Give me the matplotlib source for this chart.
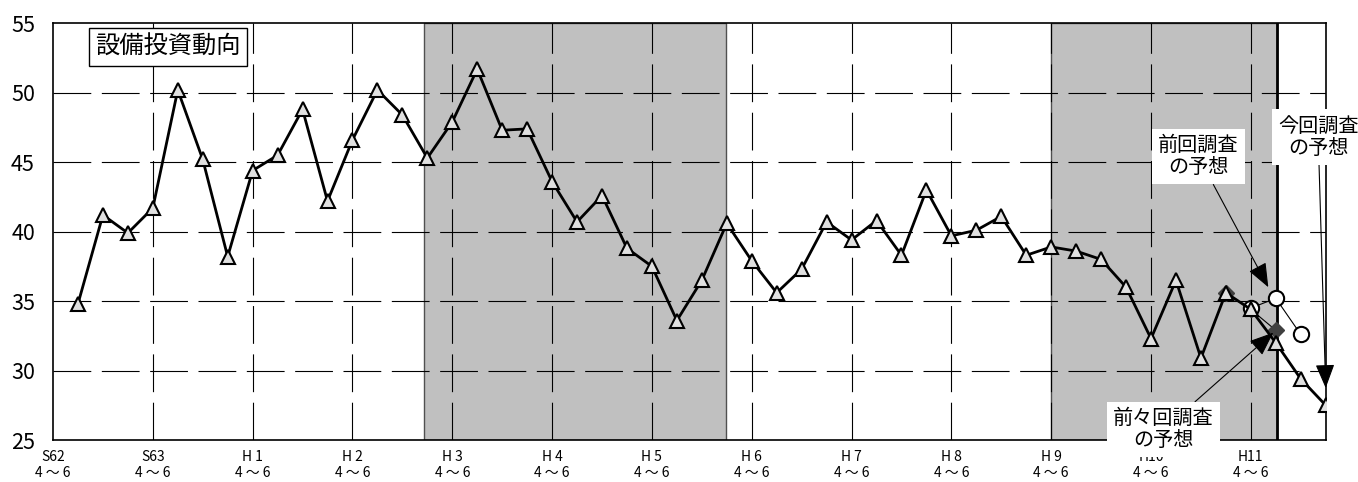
import matplotlib
matplotlib.use('Agg')
import matplotlib.pyplot as plt

plt.rcParams['font.family'] = ['Noto Sans CJK JP', 'DejaVu Sans']

# 四半期番号 (0 = S62 4~6)
quarters = list(range(1, 52))
setsubi = [34.8, 41.2, 39.9, 41.7, 50.2, 45.2, 38.2, 44.4, 45.5, 48.8,
           42.2, 46.6, 50.2, 48.4, 45.3, 47.9, 51.7, 47.3, 47.4, 43.6,
           40.7, 42.6, 38.8, 37.5, 33.6, 36.5, 40.6, 37.9, 35.6, 37.3,
           40.7, 39.4, 40.8, 38.3, 43.0, 39.7, 40.1, 41.1, 38.3, 38.9,
           38.6, 38.0, 36.0, 32.3, 36.5, 30.9, 35.6, 34.4, 32.0, 29.4, 27.5]

zenkai_x = [48, 49, 50]
zenkai_y = [34.5, 35.2, 32.6]
zenzenkai_x = [47, 48, 49]
zenzenkai_y = [35.6, 34.4, 32.9]

# 景気後退期 (網掛け)
koutai = [(14.87, 26.98), (40.0, 49.05)]
genzai = 49.05

tick_pos = list(range(0, 49, 4))
tick_labels = ['S62', 'S63', 'H 1', 'H 2', 'H 3', 'H 4', 'H 5', 'H 6',
               'H 7', 'H 8', 'H 9', 'H10', 'H11']
y_ticks = [25, 30, 35, 40, 45, 50, 55]

fig = plt.figure(figsize=(13.58, 4.82), dpi=100)
ax = fig.add_axes([53 / 1358, 1 - 440 / 482, (1325.7 - 53) / 1358, (440 - 23.3) / 482])

for a, b in koutai:
    ax.axvspan(a, b, facecolor='#c0c0c0', edgecolor='#505050', lw=1, zorder=0.5)

# グリッド
dash = (34, 9.5)
for y in y_ticks[1:-1]:
    ax.axhline(y, color='black', lw=0.8, dashes=dash, zorder=1)
for x in tick_pos[1:]:
    ax.axvline(x, color='black', lw=0.8, dashes=dash, zorder=1)
ax.axvline(genzai, color='black', lw=2, zorder=2)

ax.plot(zenzenkai_x, zenzenkai_y, color='black', lw=0.8, marker='D', ms=8,
        mfc='#404040', mec='#404040', zorder=3)
ax.plot(zenkai_x, zenkai_y, color='black', lw=0.8, marker='o', ms=11,
        mfc='white', mec='black', mew=1.5, zorder=4)
ax.plot(quarters, setsubi, color='black', lw=2, marker='^', ms=10.5,
        mfc='#e0e0e0', mec='black', mew=1.5, zorder=5)

ax.set_xlim(0, 51)
ax.set_ylim(25, 55)
ax.set_yticks(y_ticks)
ax.set_yticklabels([str(v) for v in y_ticks], fontsize=15.5)
ax.set_xticks(tick_pos)
ax.set_xticklabels([t + '\n4 ～ 6' for t in tick_labels], fontsize=10, linespacing=1.15)
ax.tick_params(axis='y', length=0, pad=13)
ax.tick_params(axis='x', length=0, pad=7.5)
for s in ax.spines.values():
    s.set_linewidth(1.2)

ax.text(1.7, 53.3, '設備投資動向', fontsize=17.5, ha='left', va='center', zorder=6,
        bbox=dict(boxstyle='square,pad=0.25', facecolor='white', edgecolor='black', lw=1))

arrow = dict(arrowstyle='-|>,head_length=0.5,head_width=0.2', mutation_scale=30,
             color='black', lw=0.8, shrinkA=0, shrinkB=0)
box = dict(boxstyle='square,pad=0.3', facecolor='white', edgecolor='none')

ax.annotate('前回調査\nの予想', xy=(48.7, 36.0), xytext=(45.9, 45.4),
            fontsize=14.5, ha='center', va='center', linespacing=1.1,
            bbox=box, arrowprops=arrow, zorder=7, annotation_clip=False)
ax.annotate('今回調査\nの予想', xy=(51.0, 28.74), xytext=(50.7, 46.8),
            fontsize=14.5, ha='center', va='center', linespacing=1.1,
            bbox=box, arrowprops=arrow, zorder=7, annotation_clip=False)
ax.annotate('前々回調査\nの予想', xy=(48.9, 32.73), xytext=(44.5, 25.75),
            fontsize=14.5, ha='center', va='center', linespacing=1.1,
            bbox=box, arrowprops=arrow, zorder=7, annotation_clip=False)

fig.savefig('out.png', dpi=100)
